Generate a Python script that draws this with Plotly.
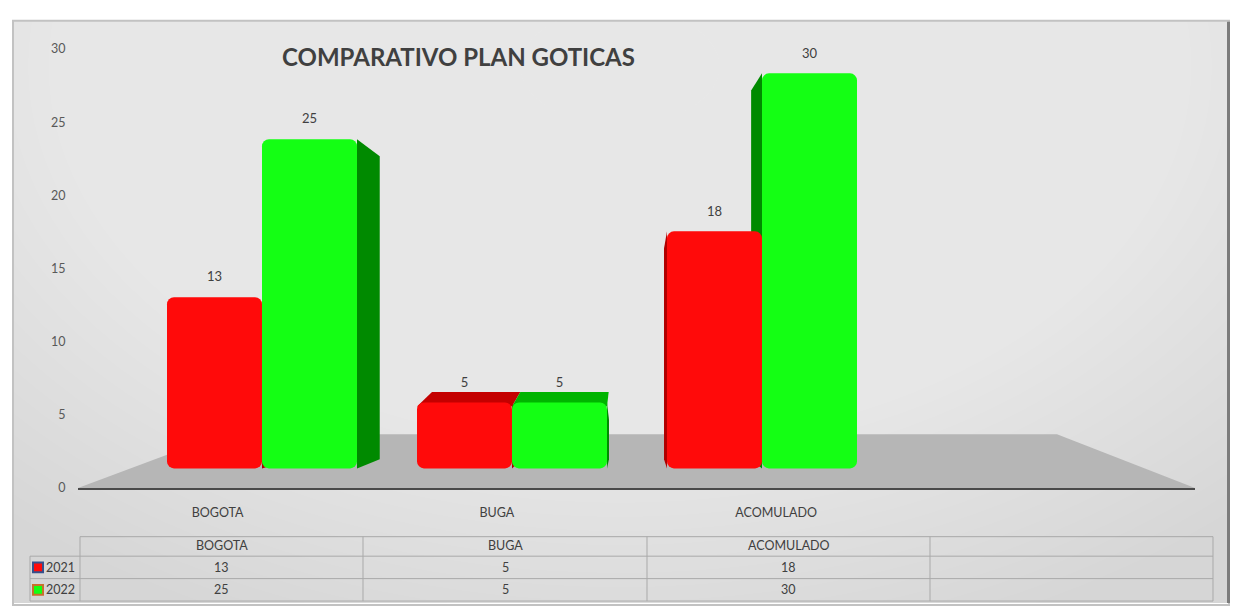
import plotly.graph_objects as go

# ---------------- data ----------------
CATEGORIES = ["BOGOTA", "BUGA", "ACOMULADO"]
SERIES_NAMES = ["2021", "2022"]
VALUES_2021 = [13, 5, 18]
VALUES_2022 = [25, 5, 30]
Y_TICKS = [0, 5, 10, 15, 20, 25, 30]
TITLE = "COMPARATIVO PLAN GOTICAS"

# ---------------- styling / geometry ----------------
W, H = 1236, 610
FONT = "Lato"
TXT = "#404040"
TICK = "#595959"
FRONT = ["#ff0a0a", "#14ff14"]
SIDE = ["#b00000", "#008a00"]
TOP = ["#c40000", "#00b400"]
KEY_BORDER = ["#34508c", "#c8702c"]


def px(x):
    return x / W


def py(y):
    return 1 - y / H


AX_L, AX_R = 78, 1195
AX_T, AX_B = 42, 492
BAR_C0, BAR_SP = 262, 250
BAR_BASE_PX, BAR_TOP_PX = 472, 67
BW = 0.38

x2_lo = -(BAR_C0 - AX_L) / BAR_SP
x2_hi = x2_lo + (AX_R - AX_L) / BAR_SP
upx = (BAR_BASE_PX - BAR_TOP_PX) / 30.0
y2_lo = -(AX_B - BAR_BASE_PX) / upx
y2_hi = y2_lo + (AX_B - AX_T) / upx

VX = (631 - BAR_C0) / BAR_SP
K_SIDE = 0.083
TOP_DROP = 1.3
BOT_RISE = 0.7
EYE = 8.0

fig = go.Figure()
series = [VALUES_2021, VALUES_2022]
offsets = [-BW, 0.0]

shapes = []
# ---------------- background & frame ----------------
shapes.append(dict(type="rect", xref="paper", yref="paper",
                   x0=px(13), x1=px(1229), y0=py(610), y1=py(13),
                   fillcolor="#d6d6d6", line=dict(width=0), layer="below"))
NSTEP = 40
for k in range(NSTEP):
    t = k / (NSTEP - 1)
    rx = 900 - t * 800
    ry = 620 - t * 560
    cx, cy = 620, 60
    shapes.append(dict(type="circle", xref="paper", yref="paper",
                       x0=px(cx - rx), x1=px(cx + rx),
                       y0=py(cy + ry), y1=py(cy - ry),
                       fillcolor="rgba(255,255,255,0.04)", line=dict(width=0),
                       layer="below"))
for (a, b, c, d) in [(0, 0, 1236, 12), (0, 0, 12, 610), (1230, 0, 1236, 610)]:
    shapes.append(dict(type="rect", xref="paper", yref="paper",
                       x0=px(a), x1=px(c), y0=py(d), y1=py(b),
                       fillcolor="white", line=dict(width=0), layer="below"))
shapes.append(dict(type="rect", xref="paper", yref="paper",
                   x0=px(13), x1=px(1229), y0=py(612), y1=py(13),
                   fillcolor="rgba(0,0,0,0)", line=dict(color="#c2c2c2", width=2),
                   layer="below"))
shapes.append(dict(type="line", xref="paper", yref="paper",
                   x0=px(1228.5), x1=px(1228.5), y0=py(610), y1=py(14),
                   line=dict(color="#7c7c7c", width=3), layer="below"))
# floor
shapes.append(dict(type="path", xref="paper", yref="paper",
                   path=f"M {px(78)},{py(492)} L {px(222)},{py(437)} "
                        f"L {px(1057)},{py(437)} L {px(1195)},{py(492)} Z",
                   fillcolor="#b6b6b6", line=dict(width=0), layer="below"))

# ---------------- 3D side / top faces (data coords, below bars) ----------------
for s, vals in enumerate(series):
    for i, v in enumerate(vals):
        l = i + offsets[s]
        r = l + BW
        pts = None
        if r < VX:
            f = K_SIDE * (VX - r)
            pts = [(r, v), (r + f, v - TOP_DROP), (r + f, BOT_RISE), (r, 0)]
        elif l > VX:
            f = K_SIDE * (l - VX)
            pts = [(l, v), (l - f, v - TOP_DROP), (l - f, BOT_RISE), (l, 0)]
        if pts:
            path = "M " + " L ".join(f"{a},{b}" for a, b in pts) + " Z"
            shapes.append(dict(type="path", xref="x2", yref="y2", path=path,
                               fillcolor=SIDE[s], line=dict(width=0),
                               layer="below"))
        d = max(0.0, EYE - v) * 0.27
        if d > 0:
            sl = (VX - l) * 0.07
            sr = (VX - r) * 0.07
            pts = [(l, v - 0.3), (l + sl, v + d), (r + sr, v + d), (r, v - 0.3)]
            path = "M " + " L ".join(f"{a},{b}" for a, b in pts) + " Z"
            shapes.append(dict(type="path", xref="x2", yref="y2", path=path,
                               fillcolor=TOP[s], line=dict(width=0),
                               layer="below"))

# ---------------- front faces ----------------
for s, vals in enumerate(series):
    fig.add_trace(go.Bar(
        x=list(range(len(CATEGORIES))), y=vals, base=0,
        width=BW, offset=offsets[s], name=SERIES_NAMES[s],
        marker=dict(color=FRONT[s], line=dict(width=0), cornerradius=7),
        xaxis="x2", yaxis="y2", showlegend=False, hoverinfo="skip"))

# ---------------- data labels ----------------
for s, vals in enumerate(series):
    fig.add_trace(go.Scatter(
        x=[i + offsets[s] + BW / 2 for i in range(len(vals))],
        y=[v + 1.45 for v in vals],
        text=[str(v) for v in vals], mode="text",
        textfont=dict(family=FONT, size=13, color=TXT),
        xaxis="x2", yaxis="y2", hoverinfo="skip", showlegend=False,
        cliponaxis=False))

fig.add_trace(go.Scatter(x=CATEGORIES, y=[None] * len(CATEGORIES),
                         mode="markers", showlegend=False, hoverinfo="skip"))

# ---------------- data table ----------------
GRID = "#a9a9a9"
col_x = [80, 363, 647, 930, 1213]
row_y = [542, 562, 585, 608]
for yy in row_y:
    x0 = 80 if yy == 542 else 30
    shapes.append(dict(type="line", xref="paper", yref="paper",
                       x0=px(x0), x1=px(1213), y0=py(yy), y1=py(yy),
                       line=dict(color=GRID, width=1)))
for xx in col_x:
    shapes.append(dict(type="line", xref="paper", yref="paper",
                       x0=px(xx), x1=px(xx), y0=py(542), y1=py(608),
                       line=dict(color=GRID, width=1)))
shapes.append(dict(type="line", xref="paper", yref="paper",
                   x0=px(30), x1=px(30), y0=py(562), y1=py(608),
                   line=dict(color=GRID, width=1)))
for s in range(2):
    yc = (row_y[s + 1] + row_y[s + 2]) / 2
    shapes.append(dict(type="rect", xref="paper", yref="paper",
                       x0=px(33), x1=px(43), y0=py(yc + 5), y1=py(yc - 5),
                       fillcolor=FRONT[s], line=dict(color=KEY_BORDER[s], width=2)))

annotations = []


def ann(text, x, y, size=12.5, xanchor="center", color=TXT):
    annotations.append(dict(text=text, x=px(x), y=py(y), xref="paper",
                            yref="paper", showarrow=False, xanchor=xanchor,
                            yanchor="middle",
                            font=dict(family=FONT, size=size, color=color)))


ann(f"<b>{TITLE}</b>", 458, 50, size=24)
for c, cat in enumerate(CATEGORIES):
    xc = (col_x[c] + col_x[c + 1]) / 2
    ann(cat, xc, 551)
    for s, vals in enumerate(series):
        yc = (row_y[s + 1] + row_y[s + 2]) / 2
        ann(str(vals[c]), xc, yc)
for s, name in enumerate(SERIES_NAMES):
    yc = (row_y[s + 1] + row_y[s + 2]) / 2
    ann(name, 44, yc, xanchor="left")

fig.update_layout(
    width=W, height=H,
    margin=dict(l=0, r=0, t=0, b=0),
    paper_bgcolor="white", plot_bgcolor="rgba(0,0,0,0)",
    barmode="overlay", showlegend=False,
    shapes=shapes, annotations=annotations,
    xaxis=dict(type="category", categoryorder="array",
               categoryarray=CATEGORIES + [" "],
               range=[-0.5, len(CATEGORIES) + 0.5],
               domain=[px(AX_L), px(AX_R)], anchor="y",
               showgrid=False, zeroline=False,
               showline=True, linecolor="#4a4a4a", linewidth=2,
               ticks="outside", ticklen=12, tickcolor="rgba(0,0,0,0)",
               tickfont=dict(family=FONT, size=12.5, color=TXT),
               fixedrange=True),
    yaxis=dict(range=[0, 30], tickvals=Y_TICKS,
               domain=[py(AX_B), py(AX_T)], anchor="x",
               showgrid=False, zeroline=False, showline=False,
               ticks="outside", ticklen=9, tickcolor="rgba(0,0,0,0)",
               tickfont=dict(family=FONT, size=12.5, color=TICK),
               fixedrange=True),
    xaxis2=dict(overlaying="x", range=[x2_lo, x2_hi], visible=False,
                anchor="y2", fixedrange=True),
    yaxis2=dict(overlaying="y", range=[y2_lo, y2_hi], visible=False,
                anchor="x2", fixedrange=True),
)

fig.write_html(
    "out.html",
    config={"displayModeBar": False, "staticPlot": True},
    post_script=(
        "document.body.style.margin='0px';"
        "document.body.style.overflow='hidden';"
    ),
)
